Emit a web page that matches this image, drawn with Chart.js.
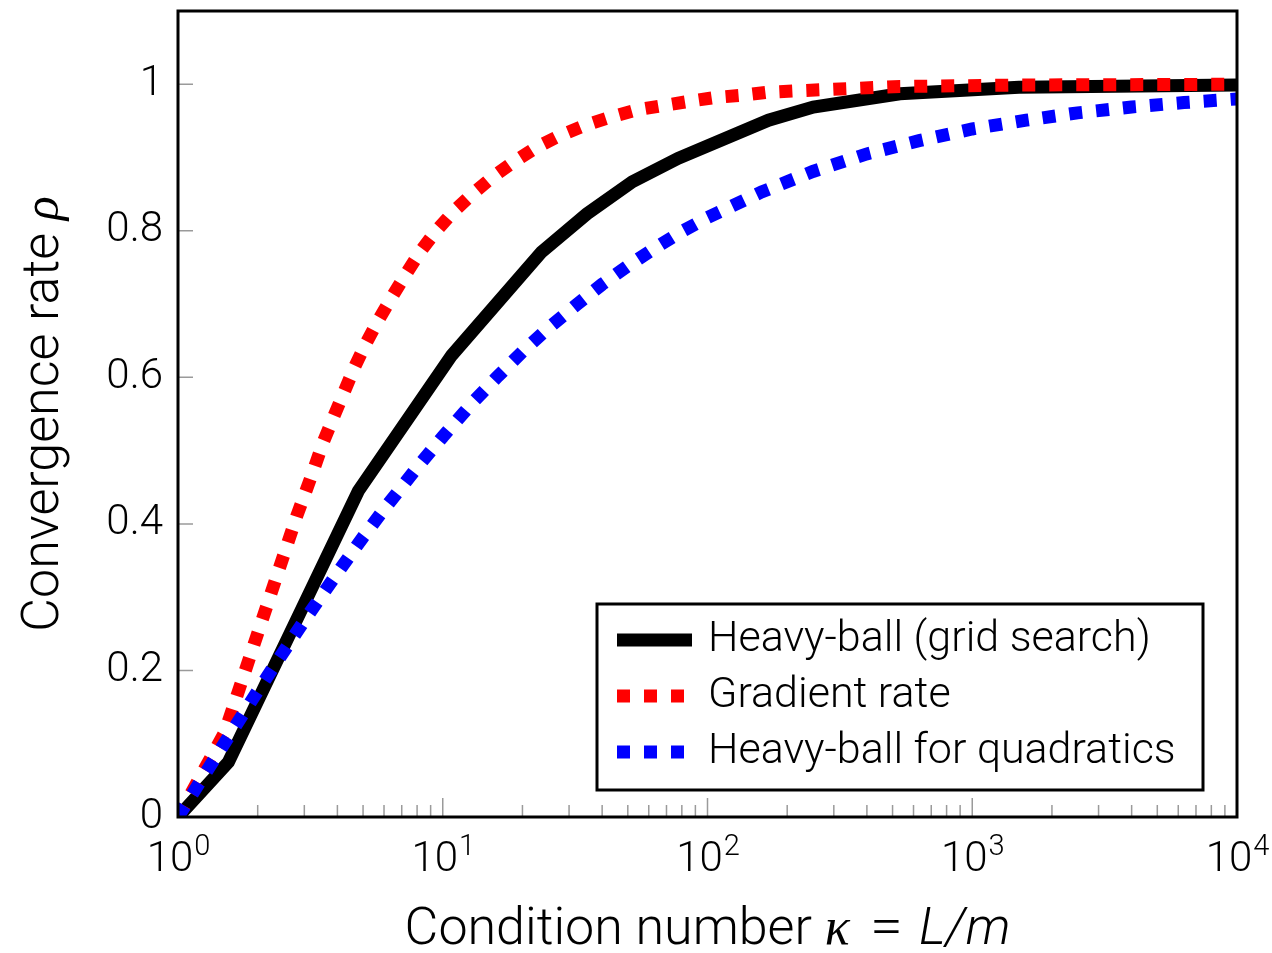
<!DOCTYPE html>
<html>
<head>
<meta charset="utf-8">
<title>Convergence rate vs condition number</title>
<script src="https://cdn.jsdelivr.net/npm/chart.js@4"></script>
<style>
  html, body { margin: 0; padding: 0; background: #fff; }
  canvas { display: block; }
</style>
</head>
<body>
<canvas id="rateChart" width="1272" height="953"></canvas>
<script>
// ---- data ----
const seriesLabels = ['Heavy-ball (grid search)', 'Gradient rate', 'Heavy-ball for quadratics'];

// heavy-ball, grid search (piecewise linear)
const kappaGrid = [1, 1.55, 4.8, 10.8, 23.6, 35, 52, 77.5, 170, 251, 533, 1500, 10000];
const rhoGrid   = [0, 0.075, 0.445, 0.63, 0.771, 0.823, 0.867, 0.899, 0.951, 0.969, 0.987, 0.996, 0.999];

// gradient rate
const kappaGradient = [1, 1.5, 2.81, 3.05, 3.24, 3.54, 3.88, 4.24, 4.63, 5.12, 5.71, 6.41, 7.14, 8.2, 9.35,
  10.96, 13, 15.5, 18.5, 22.6, 27.7, 34.5, 42.8, 54, 68, 86, 107, 135, 167, 214, 533, 1500, 10000];
const rhoGradient = [0, 0.115, 0.411, 0.446, 0.472, 0.512, 0.547, 0.58, 0.613, 0.646, 0.678, 0.709, 0.737, 0.771, 0.798,
  0.826, 0.851, 0.874, 0.894, 0.914, 0.93, 0.944, 0.955, 0.965, 0.971, 0.977, 0.982, 0.985, 0.989, 0.991, 0.997, 0.999, 1.0];

// heavy-ball for quadratics
const kappaQuad = [1, 1.25, 1.5, 2, 2.5, 3, 4, 5, 6, 8, 10, 13, 16, 20, 25, 32, 40, 50, 63, 80, 100,
  160, 250, 400, 630, 1000, 1600, 2500, 4000, 6300, 10000];
const rhoQuad = [0, 0.056, 0.101, 0.172, 0.225, 0.268, 0.333, 0.382, 0.42, 0.477, 0.519, 0.566, 0.6, 0.635, 0.667, 0.699, 0.727, 0.752, 0.776, 0.799, 0.818,
  0.853, 0.881, 0.905, 0.923, 0.939, 0.951, 0.961, 0.969, 0.975, 0.98];

const xDecades = [1, 10, 100, 1000, 10000];
const xExponents = ['0', '1', '2', '3', '4'];
const yTicks = [0, 0.2, 0.4, 0.6, 0.8, 1];

const FONT = 'Roboto';
const SERIF = 'Liberation Serif';

function pairs(xs, ys) {
  return xs.map((x, i) => ({ x: x, y: ys[i] }));
}

// ---- axis frame, ticks, labels, titles and legend drawn on the canvas ----
const paperAxes = {
  id: 'paperAxes',
  beforeDatasetsDraw(chart) {
    const ctx = chart.ctx, a = chart.chartArea;
    const xs = chart.scales.x, ys = chart.scales.y;
    ctx.save();
    ctx.strokeStyle = '#9a9a9a';
    ctx.lineWidth = 1.5;
    ctx.beginPath();
    xDecades.forEach((d, i) => {
      if (i === xDecades.length - 1) return;
      for (let k = 2; k <= 9; k++) {
        const px = xs.getPixelForValue(d * k);
        ctx.moveTo(px, a.bottom);
        ctx.lineTo(px, a.bottom - 12);
      }
      if (i > 0) {
        const px = xs.getPixelForValue(d);
        ctx.moveTo(px, a.bottom);
        ctx.lineTo(px, a.bottom - 19);
      }
    });
    yTicks.forEach(v => {
      const py = ys.getPixelForValue(v);
      ctx.moveTo(a.left, py);
      ctx.lineTo(a.left + 15, py);
    });
    ctx.stroke();
    ctx.restore();
  },
  afterDatasetsDraw(chart) {
    const ctx = chart.ctx, a = chart.chartArea;
    const xs = chart.scales.x;
    ctx.save();

    // frame
    ctx.strokeStyle = '#000';
    ctx.lineWidth = 3;
    ctx.strokeRect(a.left, a.top, a.right - a.left, a.bottom - a.top);

    // x tick labels 10^n
    ctx.fillStyle = '#000';
    ctx.textBaseline = 'alphabetic';
    ctx.textAlign = 'left';
    xDecades.forEach((d, i) => {
      const px = xs.getPixelForValue(d);
      ctx.font = `300 42px ${FONT}`;
      const wb = ctx.measureText('10').width;
      ctx.font = `300 29px ${FONT}`;
      const we = ctx.measureText(xExponents[i]).width;
      const x0 = px - (wb + we) / 2;
      ctx.font = `300 42px ${FONT}`;
      ctx.fillText('10', x0, a.bottom + 54);
      ctx.font = `300 29px ${FONT}`;
      ctx.fillText(xExponents[i], x0 + wb + 1, a.bottom + 38);
    });

    // axis titles with italic math parts
    const xTitle = [
      { t: 'Condition number ', f: `300 52px ${FONT}`, g: 0 },
      { t: 'κ', f: `italic 52px ${SERIF}`, g: 22 },
      { t: '=', f: `52px ${SERIF}`, g: 18 },
      { t: 'L/m', f: `italic 300 52px ${FONT}`, g: 0 }
    ];
    const yTitle = [
      { t: 'Convergence rate ', f: `300 52px ${FONT}`, g: 0 },
      { t: 'ρ', f: `italic 50px ${SERIF}`, g: 0 }
    ];
    function drawParts(parts, cx, baseline) {
      let total = 0;
      parts.forEach(p => { ctx.font = p.f; p.w = ctx.measureText(p.t).width; total += p.w + p.g; });
      let x = cx - total / 2;
      parts.forEach(p => { ctx.font = p.f; ctx.fillText(p.t, x, baseline); x += p.w + p.g; });
    }
    drawParts(xTitle, (a.left + a.right) / 2, a.bottom + 127);
    ctx.save();
    ctx.translate(58, (a.top + a.bottom) / 2);
    ctx.rotate(-Math.PI / 2);
    drawParts(yTitle, 0, 0);
    ctx.restore();

    // legend box inside the plot, lower right
    const lx = a.right - 640, ly = a.bottom - 213, lw = 606, lh = 186;
    ctx.fillStyle = '#fff';
    ctx.fillRect(lx, ly, lw, lh);
    ctx.lineWidth = 3;
    ctx.strokeStyle = '#000';
    ctx.strokeRect(lx, ly, lw, lh);
    chart.data.datasets.forEach((ds, i) => {
      const yy = ly + 36 + i * 56;
      ctx.save();
      ctx.strokeStyle = ds.borderColor;
      ctx.lineWidth = ds.borderWidth;
      ctx.setLineDash(ds.borderDash || []);
      ctx.beginPath();
      ctx.moveTo(lx + 20, yy);
      ctx.lineTo(lx + 95, yy);
      ctx.stroke();
      ctx.restore();
      ctx.fillStyle = '#000';
      ctx.font = `300 43px ${FONT}`;
      ctx.textBaseline = 'middle';
      ctx.fillText(ds.label, lx + 111, yy);
    });
    ctx.restore();
  }
};

new Chart(document.getElementById('rateChart'), {
  type: 'line',
  data: {
    datasets: [
      {
        label: seriesLabels[0],
        data: pairs(kappaGrid, rhoGrid),
        borderColor: '#000000',
        borderWidth: 13,
        order: 3
      },
      {
        label: seriesLabels[1],
        data: pairs(kappaGradient, rhoGradient),
        borderColor: '#ff0000',
        borderWidth: 13,
        borderDash: [13, 14],
        order: 2
      },
      {
        label: seriesLabels[2],
        data: pairs(kappaQuad, rhoQuad),
        borderColor: '#0000ff',
        borderWidth: 13,
        borderDash: [13, 14],
        order: 1
      }
    ]
  },
  options: {
    responsive: false,
    animation: false,
    layout: { padding: { top: 11, right: 35, left: 0, bottom: 0 } },
    elements: {
      point: { radius: 0 },
      line: { tension: 0, borderCapStyle: 'butt', borderJoinStyle: 'miter' }
    },
    datasets: { line: { clip: 0 } },
    plugins: { legend: { display: false }, tooltip: { enabled: false } },
    scales: {
      x: {
        type: 'logarithmic',
        min: 1,
        max: 10000,
        grid: { display: false, drawTicks: false },
        border: { display: false },
        ticks: { display: false },
        afterFit: s => { s.height = 136; s.paddingLeft = 0; s.paddingRight = 0; }
      },
      y: {
        type: 'linear',
        min: 0,
        max: 1.1,
        grid: { display: false, drawTicks: false },
        border: { display: false },
        afterBuildTicks: s => { s.ticks = yTicks.map(v => ({ value: v })); },
        ticks: {
          padding: 15,
          color: '#000',
          font: { family: FONT, size: 42, weight: '300' },
          callback: v => String(v)
        },
        afterFit: s => { s.width = 178; s.paddingTop = 0; s.paddingBottom = 0; }
      }
    }
  },
  plugins: [paperAxes]
});
</script>
</body>
</html>
